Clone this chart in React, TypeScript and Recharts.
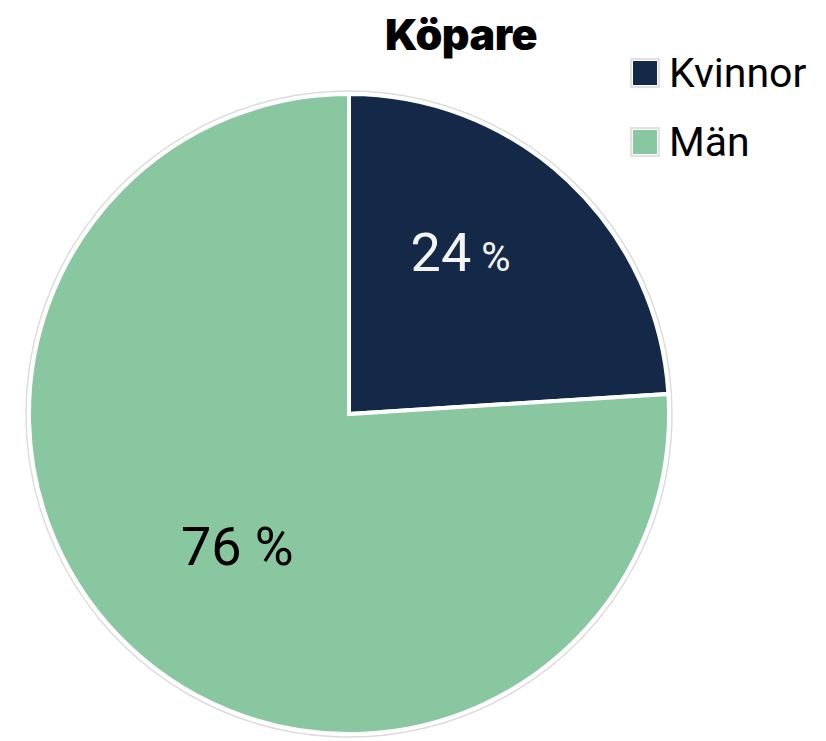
import { Legend, Pie, PieChart, Cell } from "recharts";

const categories = ["Kvinnor", "Män"];
const shares = [24, 76];
const colors = ["#132947", "#88C79F"];

const data = categories.map((name, i) => ({ name, value: shares[i] }));

// label placement tweaks (radius as share of outer radius, angle nudge in degrees)
const LABEL_STYLE = [
  { radius: 0.614, nudge: 8.6, fill: "#f4f4f4", pctSize: 40 },
  { radius: 0.54, nudge: 2.9, fill: "#000000", pctSize: 53 },
];

const RAD = Math.PI / 180;
const FONT = "Roboto, sans-serif";

function renderLabel(props: any) {
  const { cx, cy, midAngle, outerRadius, index, value } = props;
  const s = LABEL_STYLE[index];
  const a = (midAngle + s.nudge) * RAD;
  const r = outerRadius * s.radius;
  const x = cx + r * Math.cos(a);
  const y = cy - r * Math.sin(a);
  return (
    <text
      x={x}
      y={y + 19}
      fill={s.fill}
      textAnchor="middle"
      fontFamily={FONT}
      fontSize={54}
    >
      {value}
      <tspan fontSize={s.pctSize}> %</tspan>
    </text>
  );
}

function LegendBox({ payload }: any) {
  const items = (payload || []).filter((p: any) => categories.includes(p.value));
  return (
    <div style={{ fontFamily: FONT, fontSize: 41, color: "#000" }}>
      {items.map((p: any) => (
        <div
          key={p.value}
          style={{ display: "flex", alignItems: "center", height: 69 }}
        >
          <span
            style={{
              width: 24,
              height: 24,
              background: p.color,
              border: "1px solid #fff",
              outline: "2px solid #e2e2e2",
              marginLeft: 2,
              marginRight: 11,
              display: "inline-block",
            }}
          />
          {p.value}
        </div>
      ))}
    </div>
  );
}

export default function App() {
  return (
    <div style={{ position: "relative", width: 826, height: 741, background: "#fff" }}>
      <style>{`body{margin:0}`}</style>
      <div
        style={{
          position: "absolute",
          top: 8,
          left: 0,
          width: 922,
          textAlign: "center",
          fontFamily: "Inter, sans-serif",
          fontWeight: 900,
          fontSize: 43,
          letterSpacing: -0.5,
          color: "#000",
          zIndex: 2,
        }}
      >
        Köpare
      </div>
      <PieChart width={826} height={741} margin={{ top: 0, right: 0, bottom: 0, left: 0 }}>
        <Pie
          data={[{ name: "ring", value: 1 }]}
          dataKey="value"
          cx={349}
          cy={414}
          outerRadius={323}
          fill="#ffffff"
          stroke="#dcdcdc"
          strokeWidth={1.5}
          legendType="none"
          isAnimationActive={false}
        />
        <Pie
          data={data}
          dataKey="value"
          nameKey="name"
          cx={349}
          cy={414}
          outerRadius={320}
          startAngle={90}
          endAngle={-270}
          stroke="#ffffff"
          strokeWidth={4}
          labelLine={false}
          label={renderLabel}
          isAnimationActive={false}
        >
          {data.map((d, i) => (
            <Cell key={d.name} fill={colors[i]} />
          ))}
        </Pie>
        <Legend
          layout="vertical"
          align="right"
          verticalAlign="top"
          content={LegendBox}
          wrapperStyle={{ top: 38, left: 630, width: 196 }}
        />
      </PieChart>
    </div>
  );
}
